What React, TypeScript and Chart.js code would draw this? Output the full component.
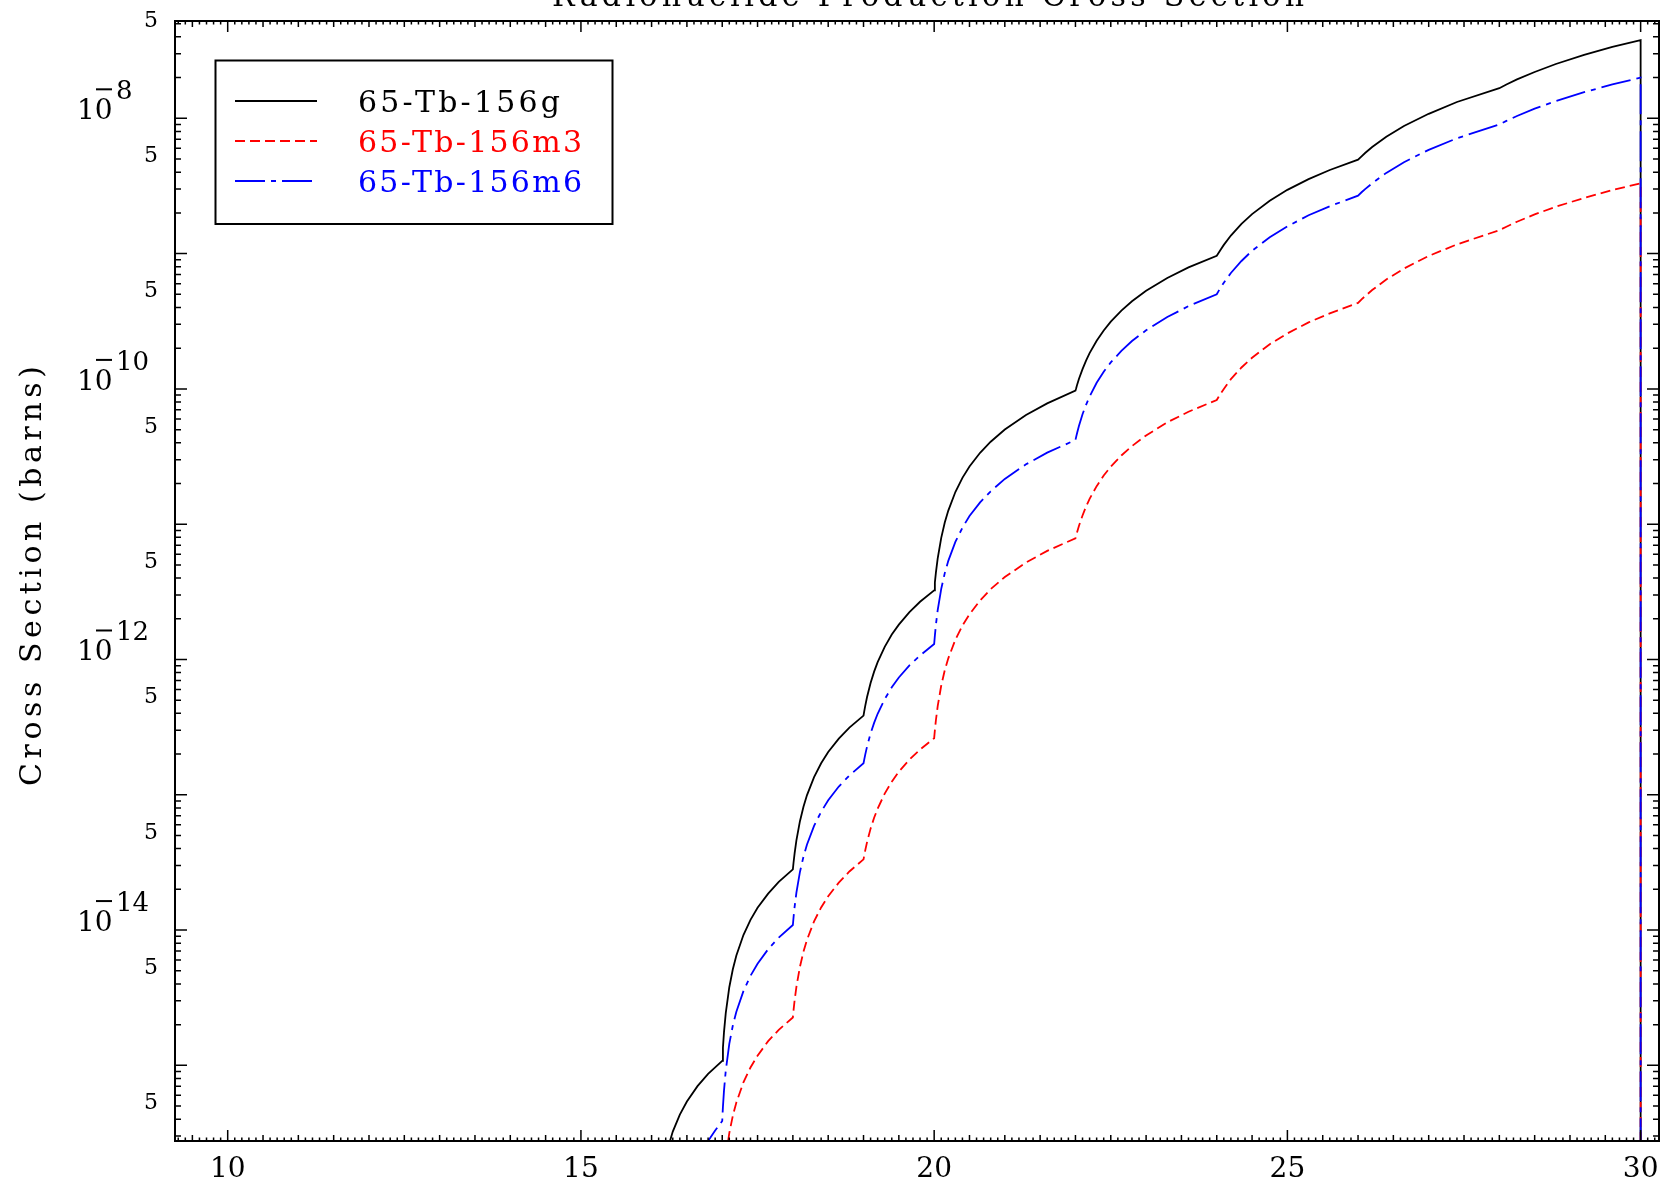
import React, { useEffect, useRef } from 'react';
import { Chart, registerables } from 'chart.js';

Chart.register(...registerables);

// ---------- text ----------
const TITLE = 'Radionuclide Production Cross Section';
const Y_TITLE = 'Cross Section (barns)';
const SERIES_LABELS = ['65-Tb-156g', '65-Tb-156m3', '65-Tb-156m6'];
const SERIES_COLORS = ['#000000', '#ff0000', '#0000ff'];
const SERIES_DASHES: number[][] = [[], [10, 5], [30, 6, 5, 6]];

// ---------- data (incident energy, cross section in barns) ----------
const g_x = [16.2, 16.3, 16.4, 16.5, 16.65, 16.8, 17.0, 17.01, 17.025, 17.05, 17.1, 17.15, 17.2, 17.3, 17.4, 17.5, 17.65, 17.8, 18.0, 18.01, 18.025, 18.05, 18.1, 18.15, 18.2, 18.3, 18.4, 18.5, 18.65, 18.8, 19.0, 19.01, 19.025, 19.05, 19.1, 19.15, 19.2, 19.3, 19.4, 19.5, 19.65, 19.8, 20.0, 20.01, 20.025, 20.05, 20.1, 20.15, 20.2, 20.3, 20.4, 20.5, 20.65, 20.8, 21.0, 21.3, 21.6, 22.0, 22.01, 22.025, 22.05, 22.1, 22.15, 22.2, 22.3, 22.4, 22.5, 22.65, 22.8, 23.0, 23.3, 23.6, 24.0, 24.025, 24.05, 24.1, 24.2, 24.35, 24.5, 24.75, 25.0, 25.3, 25.6, 26.0, 26.05, 26.1, 26.2, 26.4, 26.65, 27.0, 27.4, 28.0, 28.1, 28.25, 28.5, 28.8, 29.2, 29.6, 30.0, 30.0];
const g_y = [2.16e-16, 3.24e-16, 4.32e-16, 5.4e-16, 7.02e-16, 8.64e-16, 1.08e-15, 1.35e-15, 1.76e-15, 2.43e-15, 3.78e-15, 5.13e-15, 6.48e-15, 9.19e-15, 1.19e-14, 1.46e-14, 1.86e-14, 2.27e-14, 2.81e-14, 3.17e-14, 3.7e-14, 4.6e-14, 6.38e-14, 8.16e-14, 9.95e-14, 1.35e-13, 1.71e-13, 2.07e-13, 2.6e-13, 3.14e-13, 3.85e-13, 4.14e-13, 4.56e-13, 5.28e-13, 6.71e-13, 8.13e-13, 9.56e-13, 1.24e-12, 1.53e-12, 1.81e-12, 2.24e-12, 2.67e-12, 3.24e-12, 3.71e-12, 4.41e-12, 5.58e-12, 7.93e-12, 1.03e-11, 1.26e-11, 1.73e-11, 2.2e-11, 2.67e-11, 3.37e-11, 4.07e-11, 5.01e-11, 6.42e-11, 7.82e-11, 9.7e-11, 1.01e-10, 1.08e-10, 1.19e-10, 1.4e-10, 1.62e-10, 1.84e-10, 2.27e-10, 2.7e-10, 3.14e-10, 3.79e-10, 4.44e-10, 5.31e-10, 6.61e-10, 7.91e-10, 9.64e-10, 1.01e-9, 1.06e-9, 1.16e-9, 1.36e-9, 1.66e-9, 1.96e-9, 2.46e-9, 2.96e-9, 3.55e-9, 4.15e-9, 4.95e-9, 5.24e-9, 5.54e-9, 6.13e-9, 7.3e-9, 8.77e-9, 1.08e-8, 1.32e-8, 1.67e-8, 1.78e-8, 1.94e-8, 2.2e-8, 2.52e-8, 2.94e-8, 3.37e-8, 3.79e-8, 1e-20];

const m3_x = [17.0, 17.05, 17.1, 17.15, 17.2, 17.3, 17.4, 17.5, 17.65, 17.8, 18.0, 18.01, 18.025, 18.05, 18.1, 18.15, 18.2, 18.3, 18.4, 18.5, 18.65, 18.8, 19.0, 19.01, 19.025, 19.05, 19.1, 19.15, 19.2, 19.3, 19.4, 19.5, 19.65, 19.8, 20.0, 20.01, 20.025, 20.05, 20.1, 20.15, 20.2, 20.3, 20.4, 20.5, 20.65, 20.8, 21.0, 21.3, 21.6, 22.0, 22.01, 22.025, 22.05, 22.1, 22.15, 22.2, 22.3, 22.4, 22.5, 22.65, 22.8, 23.0, 23.3, 23.6, 24.0, 24.025, 24.05, 24.1, 24.2, 24.35, 24.5, 24.75, 25.0, 25.3, 25.6, 26.0, 26.05, 26.1, 26.2, 26.4, 26.65, 27.0, 27.4, 28.0, 28.1, 28.25, 28.5, 28.8, 29.2, 29.6, 30.0, 30.0];
const m3_y = [1.0e-16, 2.08e-16, 3.16e-16, 4.24e-16, 5.32e-16, 7.48e-16, 9.64e-16, 1.18e-15, 1.51e-15, 1.83e-15, 2.26e-15, 2.57e-15, 3.04e-15, 3.81e-15, 5.36e-15, 6.92e-15, 8.47e-15, 1.16e-14, 1.47e-14, 1.78e-14, 2.24e-14, 2.71e-14, 3.33e-14, 3.56e-14, 3.9e-14, 4.47e-14, 5.62e-14, 6.76e-14, 7.9e-14, 1.02e-13, 1.25e-13, 1.48e-13, 1.82e-13, 2.16e-13, 2.62e-13, 3.0e-13, 3.57e-13, 4.52e-13, 6.42e-13, 8.33e-13, 1.02e-12, 1.4e-12, 1.78e-12, 2.16e-12, 2.73e-12, 3.31e-12, 4.07e-12, 5.21e-12, 6.35e-12, 7.87e-12, 8.25e-12, 8.81e-12, 9.74e-12, 1.16e-11, 1.35e-11, 1.54e-11, 1.91e-11, 2.29e-11, 2.66e-11, 3.22e-11, 3.78e-11, 4.53e-11, 5.66e-11, 6.78e-11, 8.28e-11, 8.72e-11, 9.15e-11, 1.0e-10, 1.18e-10, 1.44e-10, 1.7e-10, 2.14e-10, 2.57e-10, 3.1e-10, 3.62e-10, 4.32e-10, 4.59e-10, 4.85e-10, 5.38e-10, 6.44e-10, 7.76e-10, 9.61e-10, 1.17e-9, 1.49e-9, 1.58e-9, 1.72e-9, 1.95e-9, 2.22e-9, 2.58e-9, 2.95e-9, 3.31e-9, 1e-20];

const m6_x = [16.7, 16.8, 16.9, 17.0, 17.005, 17.01, 17.025, 17.05, 17.1, 17.15, 17.2, 17.3, 17.4, 17.5, 17.65, 17.8, 18.0, 18.01, 18.025, 18.05, 18.1, 18.15, 18.2, 18.3, 18.4, 18.5, 18.65, 18.8, 19.0, 19.01, 19.025, 19.05, 19.1, 19.15, 19.2, 19.3, 19.4, 19.5, 19.65, 19.8, 20.0, 20.01, 20.025, 20.05, 20.1, 20.15, 20.2, 20.3, 20.4, 20.5, 20.65, 20.8, 21.0, 21.3, 21.6, 22.0, 22.01, 22.025, 22.05, 22.1, 22.15, 22.2, 22.3, 22.4, 22.5, 22.65, 22.8, 23.0, 23.3, 23.6, 24.0, 24.025, 24.05, 24.1, 24.2, 24.35, 24.5, 24.75, 25.0, 25.3, 25.6, 26.0, 26.05, 26.1, 26.2, 26.4, 26.65, 27.0, 27.4, 28.0, 28.1, 28.25, 28.5, 28.8, 29.2, 29.6, 30.0, 30.0];
const m6_y = [2.25e-16, 2.76e-16, 3.3e-16, 3.88e-16, 4.41e-16, 4.93e-16, 6.51e-16, 9.14e-16, 1.44e-15, 1.97e-15, 2.49e-15, 3.54e-15, 4.59e-15, 5.64e-15, 7.22e-15, 8.8e-15, 1.09e-14, 1.25e-14, 1.49e-14, 1.89e-14, 2.69e-14, 3.49e-14, 4.29e-14, 5.89e-14, 7.49e-14, 9.1e-14, 1.15e-13, 1.39e-13, 1.71e-13, 1.82e-13, 1.99e-13, 2.27e-13, 2.84e-13, 3.4e-13, 3.97e-13, 5.1e-13, 6.23e-13, 7.36e-13, 9.05e-13, 1.07e-12, 1.3e-12, 1.5e-12, 1.81e-12, 2.32e-12, 3.33e-12, 4.35e-12, 5.36e-12, 7.39e-12, 9.42e-12, 1.15e-11, 1.45e-11, 1.75e-11, 2.16e-11, 2.77e-11, 3.38e-11, 4.19e-11, 4.42e-11, 4.76e-11, 5.34e-11, 6.49e-11, 7.63e-11, 8.78e-11, 1.11e-10, 1.34e-10, 1.57e-10, 1.91e-10, 2.26e-10, 2.71e-10, 3.4e-10, 4.09e-10, 5.01e-10, 5.28e-10, 5.55e-10, 6.1e-10, 7.19e-10, 8.82e-10, 1.05e-9, 1.32e-9, 1.59e-9, 1.92e-9, 2.24e-9, 2.68e-9, 2.84e-9, 3.0e-9, 3.31e-9, 3.95e-9, 4.74e-9, 5.85e-9, 7.12e-9, 9.02e-9, 9.57e-9, 1.04e-8, 1.18e-8, 1.34e-8, 1.56e-8, 1.78e-8, 2.0e-8, 1e-20];

// ---------- axes ----------
const X_MIN = 9.254;
const X_MAX = 30.26;
const Y_MIN = 2.76e-16;
const Y_MAX = 5.24e-8;
const X_TICK_LABELS = [10, 15, 20, 25, 30];
const Y_DECADE_LABELS = [-8, -10, -12, -14];
const Y_MANTISSA_LABEL = 5;

const FONT = "'DejaVu Serif', serif";

function drawSpaced(ctx: CanvasRenderingContext2D, text: string, x: number, y: number, width: number, align: 'left' | 'center' | 'right') {
  const c: any = ctx;
  c.letterSpacing = '0px';
  const w0 = ctx.measureText(text).width;
  const n = Math.max(1, text.length - 1);
  const sp = (width - w0) / n;
  c.letterSpacing = sp.toFixed(2) + 'px';
  const sx = align === 'left' ? x : align === 'center' ? x - width / 2 : x - width;
  ctx.textAlign = 'left';
  ctx.fillText(text, sx, y);
  c.letterSpacing = '0px';
}

const idlPlugin = {
  id: 'idlFrame',
  afterDatasetsDraw(chart: any) {
    const ctx: CanvasRenderingContext2D = chart.ctx;
    const a = chart.chartArea;
    const xs = chart.scales.x;
    const ys = chart.scales.y;
    ctx.save();
    ctx.strokeStyle = '#000';
    ctx.fillStyle = '#000';

    // frame
    ctx.lineWidth = 2;
    ctx.strokeRect(a.left, a.top, a.right - a.left, a.bottom - a.top);

    // x ticks (bottom + top, inward)
    ctx.lineWidth = 1.5;
    ctx.beginPath();
    for (let k = Math.ceil(X_MIN * 10); k <= Math.floor(X_MAX * 10); k++) {
      const px = xs.getPixelForValue(k / 10);
      const len = k % 50 === 0 ? 11 : k % 5 === 0 ? 6 : 3.5;
      ctx.moveTo(px, a.bottom);
      ctx.lineTo(px, a.bottom - len);
      ctx.moveTo(px, a.top);
      ctx.lineTo(px, a.top + len);
    }
    // y ticks (left + right, inward)
    for (let e = -17; e <= -7; e++) {
      for (let m = 1; m <= 9; m++) {
        const v = m * Math.pow(10, e);
        if (v < Y_MIN || v > Y_MAX) continue;
        const py = ys.getPixelForValue(v);
        const len = m === 1 ? 12 : 6;
        ctx.moveTo(a.left, py);
        ctx.lineTo(a.left + len, py);
        ctx.moveTo(a.right, py);
        ctx.lineTo(a.right - len, py);
      }
    }
    ctx.stroke();

    // x tick labels
    ctx.font = `28px ${FONT}`;
    ctx.textBaseline = 'alphabetic';
    ctx.textAlign = 'center';
    for (const v of X_TICK_LABELS) {
      ctx.fillText(String(v), xs.getPixelForValue(v), a.bottom + 36);
    }

    // y mantissa labels "5"
    ctx.font = `22px ${FONT}`;
    ctx.textAlign = 'right';
    for (let e = -17; e <= -7; e++) {
      const v = Y_MANTISSA_LABEL * Math.pow(10, e);
      if (v < Y_MIN || v > Y_MAX) continue;
      const py = ys.getPixelForValue(v);
      ctx.fillText(String(Y_MANTISSA_LABEL), a.left - 17, py + 3);
    }

    // y decade labels 10^-n (IDL style)
    for (const e of Y_DECADE_LABELS) {
      const py = ys.getPixelForValue(Math.pow(10, e));
      ctx.font = `28px ${FONT}`;
      ctx.textAlign = 'left';
      ctx.fillText('10', a.left - 98, py + 1);
      ctx.font = `26px ${FONT}`;
      ctx.fillText(String(-e), a.left - 59, py - 19);
      ctx.lineWidth = 2;
      ctx.beginPath();
      ctx.moveTo(a.left - 79, py - 29);
      ctx.lineTo(a.left - 63, py - 29);
      ctx.stroke();
    }

    // y title
    ctx.save();
    ctx.translate(33, (a.top + a.bottom) / 2 - 5);
    ctx.rotate(-Math.PI / 2);
    ctx.font = `30px ${FONT}`;
    ctx.textBaseline = 'middle';
    drawSpaced(ctx, Y_TITLE, 0, 0, 420, 'center');
    ctx.restore();

    // title (clipped at page top)
    ctx.font = `30px ${FONT}`;
    ctx.textBaseline = 'alphabetic';
    drawSpaced(ctx, TITLE, 928, 6, 752, 'center');

    // legend
    const lx = 215.5, ly = 60.5, lw = 397, lh = 163.5;
    ctx.lineWidth = 2;
    ctx.strokeStyle = '#000';
    ctx.strokeRect(lx, ly, lw, lh);
    const rowsY = [101, 141, 181];
    const textW = [202, 224, 224];
    chart.data.datasets.forEach((ds: any, i: number) => {
      const yy = rowsY[i];
      ctx.save();
      ctx.strokeStyle = ds.borderColor;
      ctx.lineWidth = ds.borderWidth;
      ctx.setLineDash(ds.borderDash || []);
      ctx.beginPath();
      ctx.moveTo(235, yy);
      ctx.lineTo(317, yy);
      ctx.stroke();
      ctx.restore();
      ctx.fillStyle = ds.borderColor;
      ctx.font = `30px ${FONT}`;
      ctx.textBaseline = 'alphabetic';
      drawSpaced(ctx, ds.label, 358, yy + 11, textW[i], 'left');
    });

    ctx.restore();
  },
};

export default function App() {
  const ref = useRef<HTMLCanvasElement | null>(null);
  useEffect(() => {
    if (!ref.current) return;
    const xsArr = [g_x, m3_x, m6_x];
    const ysArr = [g_y, m3_y, m6_y];
    const orders = [3, 2, 1];
    const chart = new Chart(ref.current, {
      type: 'line',
      data: {
        datasets: SERIES_LABELS.map((label, i) => ({
          label,
          data: xsArr[i].map((x, j) => ({ x, y: ysArr[i][j] })),
          borderColor: SERIES_COLORS[i],
          backgroundColor: SERIES_COLORS[i],
          borderWidth: 1.8,
          borderDash: SERIES_DASHES[i],
          pointRadius: 0,
          fill: false,
          tension: 0,
          order: orders[i],
        })),
      },
      options: {
        animation: false,
        responsive: false,
        devicePixelRatio: 1,
        events: [],
        layout: { padding: { left: 175, top: 21, right: 6, bottom: 41 } },
        plugins: {
          legend: { display: false },
          tooltip: { enabled: false },
          title: { display: false },
        },
        scales: {
          x: { type: 'linear', min: X_MIN, max: X_MAX, display: false },
          y: { type: 'logarithmic', min: Y_MIN, max: Y_MAX, display: false },
        },
      },
      plugins: [idlPlugin],
    } as any);
    return () => chart.destroy();
  }, []);
  return (
    <div style={{ position: 'fixed', left: 0, top: 0, width: 1665, height: 1182, background: '#fff' }}>
      <canvas ref={ref} width={1665} height={1182} style={{ width: 1665, height: 1182, display: 'block' }} />
    </div>
  );
}
